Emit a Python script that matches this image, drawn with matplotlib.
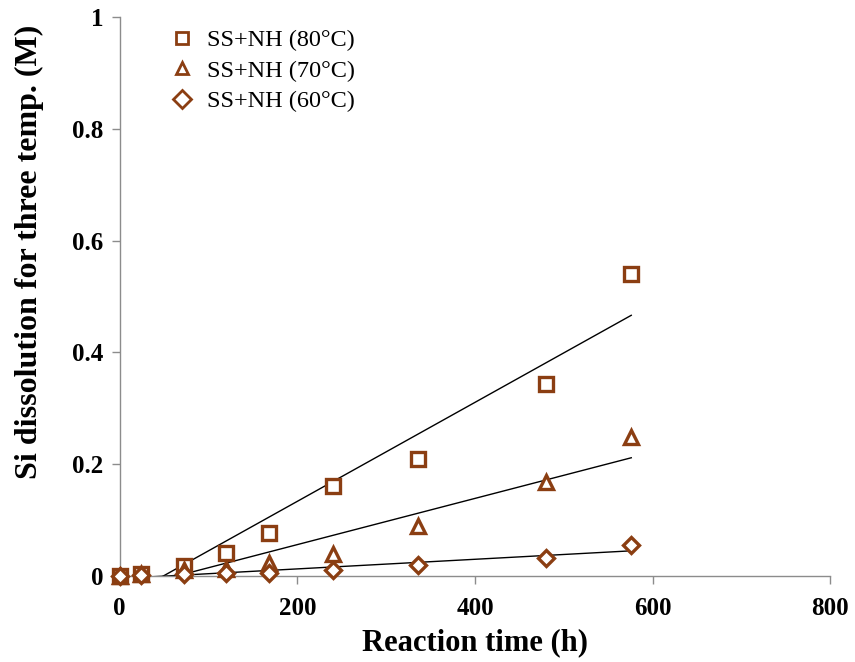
import numpy as np
import matplotlib.pyplot as plt

plt.rcParams['font.family'] = ['Liberation Serif', 'DejaVu Serif']

# reaction times (h) and Si concentration (M) per temperature
hours = [0, 24, 72, 120, 168, 240, 336, 480, 576]
si_80 = [0.0, 0.004, 0.018, 0.041, 0.077, 0.161, 0.209, 0.343, 0.540]
si_70 = [0.0, 0.003, 0.010, 0.012, 0.024, 0.040, 0.089, 0.168, 0.248]
si_60 = [0.0, 0.001, 0.003, 0.005, 0.006, 0.011, 0.019, 0.032, 0.055]
labels = ['SS+NH (80°C)', 'SS+NH (70°C)', 'SS+NH (60°C)']
markers = ['s', '^', 'D']
msizes = [10, 10, 8]

brown = '#8B3E12'
axis_grey = '#8c8c8c'

fig = plt.figure(figsize=(8.55, 6.62), dpi=100)
ax = fig.add_axes([0.140, 0.130, 0.831, 0.844])

x = np.array(hours, dtype=float)
for ys, lab, m, ms in zip([si_80, si_70, si_60], labels, markers, msizes):
    ax.plot(x, ys, linestyle='none', marker=m, markersize=ms,
            markerfacecolor='white', markeredgecolor=brown,
            markeredgewidth=2.4, label=lab, clip_on=False, zorder=3)
    # linear trendline
    k, b = np.polyfit(x, ys, 1)
    xs = np.linspace(0, x.max(), 200)
    ax.plot(xs, k * xs + b, color='black', linewidth=1.0, zorder=2)

ax.set_xlim(0, 800)
ax.set_ylim(0, 1)
ax.set_xticks([0, 200, 400, 600, 800])
ax.set_yticks([0, 0.2, 0.4, 0.6, 0.8, 1.0])
ax.set_yticklabels(['0', '0.2', '0.4', '0.6', '0.8', '1'])

for side in ['top', 'right']:
    ax.spines[side].set_visible(False)
for side in ['left', 'bottom']:
    ax.spines[side].set_color(axis_grey)
    ax.spines[side].set_linewidth(1.0)
ax.tick_params(direction='out', length=6, width=1.0, color=axis_grey,
               labelsize=18, pad=6)
ax.tick_params(axis='x', pad=9)
for t in ax.get_xticklabels() + ax.get_yticklabels():
    t.set_fontweight('bold')

ax.set_xlabel('Reaction time (h)', fontsize=22, fontweight='bold', labelpad=6)
ax.set_ylabel('Si dissolution for three temp. (M)', fontsize=23,
              fontweight='bold')
ax.yaxis.set_label_coords(-0.107, 0.58)

leg = ax.legend(loc='upper left', bbox_to_anchor=(0.037, 1.018), frameon=False,
                fontsize=17.5, handletextpad=0.4, labelspacing=0.35,
                handlelength=1.2)
for h in leg.legend_handles:
    h.set_markersize(9)
    h.set_markeredgewidth(2)

fig.savefig('out.png', dpi=100)
